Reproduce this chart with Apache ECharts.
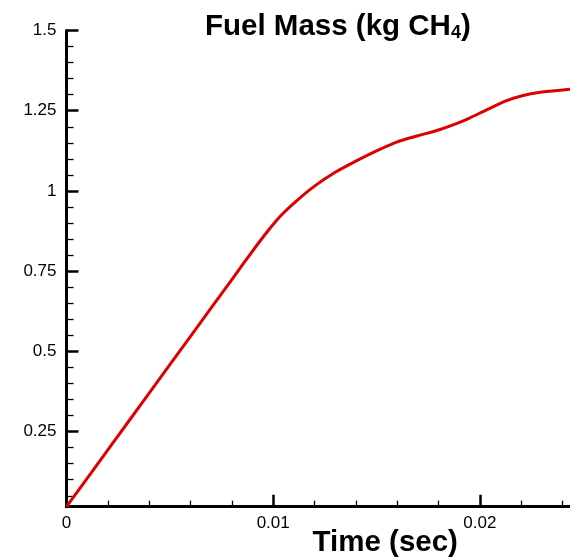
<!DOCTYPE html>
<html>
<head>
<meta charset="utf-8">
<script src="https://cdn.jsdelivr.net/npm/echarts@6/dist/echarts.min.js"></script>
<style>html,body{margin:0;padding:0;background:#fff}#c{width:570px;height:559px}</style>
</head>
<body>
<div id="c"></div>
<script>
// Data
var timeSec = [0, 0.002, 0.004, 0.006, 0.008, 0.0092, 0.0098, 0.0104, 0.0112, 0.0120, 0.0130, 0.0140, 0.0150, 0.0160, 0.0170, 0.0180, 0.0188, 0.0195, 0.0203, 0.0212, 0.0220, 0.0230, 0.02436];
var fuelMass = [0.016, 0.193, 0.370, 0.547, 0.724, 0.830, 0.880, 0.925, 0.973, 1.015, 1.058, 1.093, 1.125, 1.153, 1.172, 1.190, 1.208, 1.227, 1.252, 1.279, 1.296, 1.308, 1.317];

var xMajorTicks = [0, 0.01, 0.02];
var xMinorTicks = [0.002, 0.004, 0.006, 0.008, 0.012, 0.014, 0.016, 0.018, 0.022, 0.024];
var yMajorTicks = [0.25, 0.5, 0.75, 1, 1.25, 1.5];
var yMinorTicks = [0.05, 0.1, 0.15, 0.2, 0.3, 0.35, 0.4, 0.45, 0.55, 0.6, 0.65, 0.7, 0.8, 0.85, 0.9, 0.95, 1.05, 1.1, 1.15, 1.2, 1.3, 1.35, 1.4, 1.45];

var xMin = 0, xMax = 0.02436, yMin = 0.016, yMax = 1.5;

var FONT = '"Liberation Sans", Arial, Helvetica, sans-serif';
var chart = echarts.init(document.getElementById('c'), null, {renderer: 'canvas'});

var points = timeSec.map(function (t, i) { return [t, fuelMass[i]]; });

chart.setOption({
  backgroundColor: '#ffffff',
  animation: false,
  title: {
    text: '{b|Fuel Mass (kg CH}{s|4}{b|)}',
    left: 200,
    top: 7,
    textStyle: {
      rich: {
        b: {fontFamily: FONT, fontSize: 29.5, fontWeight: 'bold', color: '#000', lineHeight: 30},
        s: {fontFamily: FONT, fontSize: 18, fontWeight: 'bold', color: '#000', lineHeight: 12, verticalAlign: 'bottom'}
      }
    }
  },
  grid: {left: 66.5, top: 30.5, width: 503.5, height: 476.2, containLabel: false, outerBoundsMode: 'none'},
  xAxis: [{
    type: 'value', min: xMin, max: xMax, position: 'bottom',
    name: 'Time (sec)', nameLocation: 'middle', nameGap: 21.5, nameMoveOverlap: false,
    nameTextStyle: {fontFamily: FONT, fontSize: 29.5, fontWeight: 'bold', color: '#000', padding: [0, 0, 0, 134]},
    axisLine: {show: true, lineStyle: {color: '#000', width: 3}},
    axisTick: {show: true, inside: true, length: 12, customValues: xMajorTicks, lineStyle: {color: '#000', width: 2.5}},
    axisLabel: {show: true, customValues: xMajorTicks, margin: 8, fontFamily: FONT, fontSize: 17, color: '#000'},
    splitLine: {show: false}
  }, {
    type: 'value', min: xMin, max: xMax, position: 'bottom',
    axisLine: {show: false},
    axisTick: {show: true, inside: true, length: 6, customValues: xMinorTicks, lineStyle: {color: '#000', width: 1.3}},
    axisLabel: {show: false},
    splitLine: {show: false}
  }],
  yAxis: [{
    type: 'value', min: yMin, max: yMax, position: 'left',
    axisLine: {show: true, lineStyle: {color: '#000', width: 3}},
    axisTick: {show: true, inside: true, length: 12, customValues: yMajorTicks, lineStyle: {color: '#000', width: 2.5}},
    axisLabel: {show: true, customValues: yMajorTicks, margin: 10, fontFamily: FONT, fontSize: 17, color: '#000'},
    splitLine: {show: false}
  }, {
    type: 'value', min: yMin, max: yMax, position: 'left',
    axisLine: {show: false},
    axisTick: {show: true, inside: true, length: 7, customValues: yMinorTicks, lineStyle: {color: '#000', width: 1.3}},
    axisLabel: {show: false},
    splitLine: {show: false}
  }],
  series: [{
    type: 'line',
    xAxisIndex: 0, yAxisIndex: 0,
    data: points,
    showSymbol: false,
    smooth: 0.25,
    clip: true,
    lineStyle: {color: '#dd0000', width: 3},
    itemStyle: {color: '#dd0000'}
  }]
});
</script>
</body>
</html>
